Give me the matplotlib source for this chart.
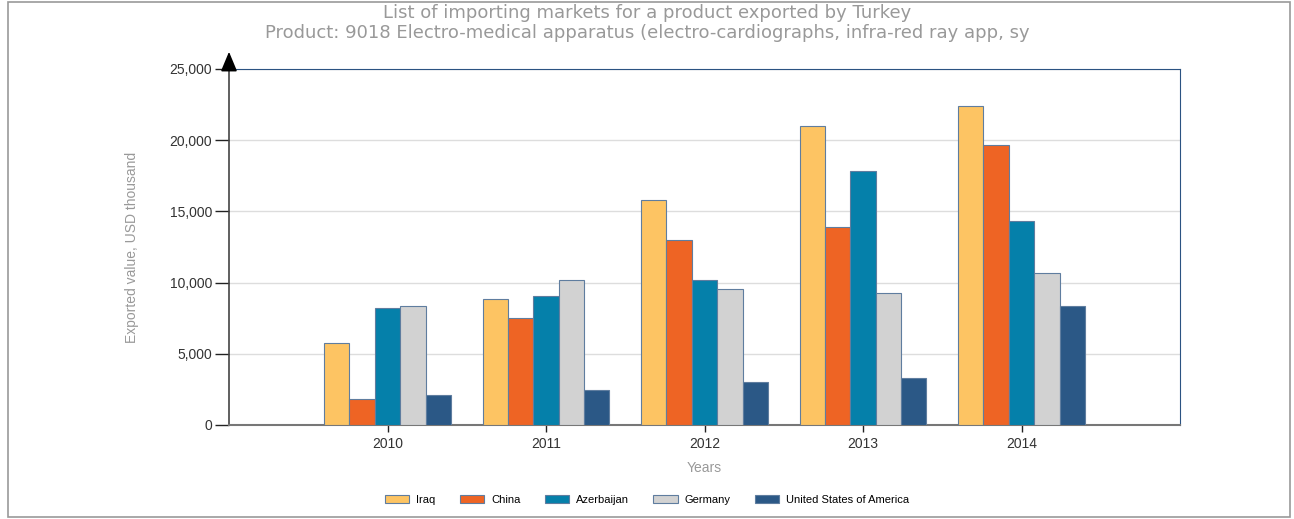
import matplotlib
matplotlib.use("Agg")
import matplotlib.pyplot as plt
import numpy as np
from matplotlib.patches import Rectangle

years = ["2010", "2011", "2012", "2013", "2014"]
series_names = ["Iraq", "China", "Azerbaijan", "Germany", "United States of America"]
iraq = [5750, 8850, 15800, 21000, 22400]
china = [1830, 7500, 13000, 13900, 19650]
azerbaijan = [8200, 9060, 10180, 17850, 14330]
germany = [8360, 10180, 9550, 9270, 10670]
usa = [2100, 2460, 3020, 3300, 8360]
values = [iraq, china, azerbaijan, germany, usa]
colors = ["#fdc463", "#ee6424", "#0580aa", "#d2d2d2", "#2b5886"]

plt.rcParams['font.family'] = ['Liberation Sans', 'DejaVu Sans']

fig = plt.figure(figsize=(12.94, 5.19), dpi=100)
ax = fig.add_axes([229/1294, 1-425/519, (1180-229)/1294, (425-69)/519])

x = np.arange(len(years))
w = 0.16
for i, (name, vals, c) in enumerate(zip(series_names, values, colors)):
    ax.bar(x + (i - 2) * w, vals, width=w, color=c, edgecolor="#5f7d9f",
           linewidth=0.8, label=name, zorder=3)

ax.set_xlim(-1, 5)
ax.set_ylim(0, 25000)
ax.set_yticks(range(0, 25001, 5000))
ax.set_yticklabels([f"{v:,}" for v in range(0, 25001, 5000)], fontsize=10, color="#333333")
ax.set_xticks(x)
ax.set_xticklabels(years, fontsize=10, color="#333333")
ax.yaxis.grid(True, color="#dddddd", linewidth=1, zorder=0)
ax.set_axisbelow(True)
ax.tick_params(axis='y', length=10, width=1, color="#222222", pad=2)
ax.tick_params(axis='x', length=5, width=1, color="#222222", pad=4)

ax.spines['left'].set_color("#444444")
ax.spines['left'].set_linewidth(1.2)
ax.spines['bottom'].set_color("#777777")
ax.spines['bottom'].set_linewidth(1.5)
ax.spines['top'].set_color("#2b5382")
ax.spines['right'].set_color("#2b5382")

# arrow on top of y axis
ax.annotate("", xy=(229/1294, 1-49/519), xytext=(229/1294, 1-70/519),
            xycoords='figure fraction', textcoords='figure fraction',
            arrowprops=dict(arrowstyle='-|>,head_width=0.5,head_length=1.2',
                            color='black', lw=1.2))

ax.set_ylabel("Exported value, USD thousand", fontsize=10, color="#999999", labelpad=22)
ax.set_xlabel("Years", fontsize=10, color="#999999", labelpad=7)

fig.text(0.5, 1-13/519, "List of importing markets for a product exported by Turkey",
         ha='center', va='center', fontsize=13, color="#999999", family=['DejaVu Sans'])
fig.text(0.5, 1-33/519, "Product: 9018 Electro-medical apparatus (electro-cardiographs, infra-red ray app, sy",
         ha='center', va='center', fontsize=13, color="#999999", family=['DejaVu Sans'])

leg = fig.legend(loc='center', bbox_to_anchor=(0.5, 1-500/519), ncol=5, frameon=False,
                 fontsize=8, handlelength=2.2, handleheight=0.8, columnspacing=2.2,
                 handletextpad=0.6)

fig.patches.append(Rectangle((8/1294, 2/519), 1282/1294, 515/519, transform=fig.transFigure,
                             fill=False, edgecolor="#999999", linewidth=1.2))

fig.savefig("out.png", dpi=100)
